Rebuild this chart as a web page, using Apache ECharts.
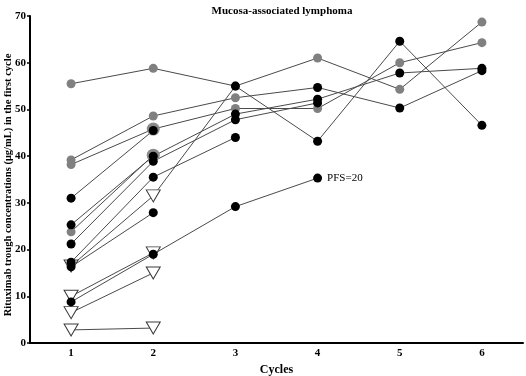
<!DOCTYPE html>
<html><head><meta charset="utf-8">
<script src="https://cdn.jsdelivr.net/npm/echarts@6/dist/echarts.min.js"></script>
<style>html,body{margin:0;padding:0;background:#fff}#c{width:526px;height:376px}</style>
</head><body><div id="c"></div>
<script>
// ---- data ----
var cycles = ['1', '2', '3', '4', '5', '6'];
var yTicks = [0, 10, 20, 30, 40, 50, 60, 70];
var titleText = 'Mucosa-associated lymphoma';
var xName = 'Cycles';
var yName = 'Rituximab trough concentrations (\u03bcg/mL) in the first cycle';
var pfsNote = 'PFS=20';

// per-patient values by cycle; kind: g = grey circle, G = large grey circle, b = black circle, t = open triangle
var pA = [55.5, 58.8, 55.0, 61.0, 54.3, 68.7];   var kA = ['g','g','g','g','g','g'];
var pB = [16.5, 31.5, 55.0, 43.2, 64.6, 46.6];   var kB = ['t','t','b','b','b','b'];
var pC = [39.2, 48.6, 52.5, 54.7, 50.3, 58.3];   var kC = ['g','g','g','b','b','b'];
var pD = [38.2, 45.8, 50.2, 50.2, 60.0, 64.3];   var kD = ['g','G','g','g','g','g'];
var pF = [25.3, 40.0, 49.0, 52.2, 57.8, 58.8];   var kF = ['b','b','b','b','b','b'];
var pG = [21.2, 38.9, 47.8, 51.4];               var kG = ['b','b','b','b'];
var pH = [17.3, 35.5, 44.0];                     var kH = ['b','b','b'];
var pPFS = [8.8, 19.0, 29.2, 35.3];              var kPFS = ['b','b','b','b'];
var pI = [31.0, 45.5];                           var kI = ['b','b'];
var pJ = [23.8, 40.2];                           var kJ = ['g','G'];
var pK = [16.3, 27.9];                           var kK = ['b','b'];
var pL = [10.0, 19.3];                           var kL = ['t','t'];
var pM = [6.5, 15.0];                            var kM = ['t','t'];
var pN = [2.8, 3.2];                             var kN = ['t','t'];

var patients = [
  {v: pA, k: kA}, {v: pB, k: kB}, {v: pC, k: kC}, {v: pD, k: kD}, {v: pF, k: kF},
  {v: pG, k: kG}, {v: pH, k: kH}, {v: pPFS, k: kPFS, note: pfsNote}, {v: pI, k: kI},
  {v: pJ, k: kJ}, {v: pK, k: kK}, {v: pL, k: kL}, {v: pM, k: kM}, {v: pN, k: kN}
];

// ---- chart ----
var serif = '"Liberation Serif", "Times New Roman", serif';
var series = [];
patients.forEach(function (p) {
  series.push({
    type: 'line', data: p.v.slice(), symbol: 'none', z: 1, silent: true,
    lineStyle: {color: '#4a4a4a', width: 1}
  });
});
var kindStyle = {
  t: {symbol: 'triangle', symbolRotate: 180, symbolSize: [14, 12], itemStyle: {color: '#fff', borderColor: '#3a3a3a', borderWidth: 1, opacity: 1}, z: 3},
  G: {symbol: 'circle', symbolSize: 13, itemStyle: {color: '#8a8a8a', opacity: 1}, z: 4},
  g: {symbol: 'circle', symbolSize: 9, itemStyle: {color: '#808080', opacity: 1}, z: 5},
  b: {symbol: 'circle', symbolSize: 9, itemStyle: {color: '#000', opacity: 1}, z: 6}
};
['t', 'G', 'g', 'b'].forEach(function (kind) {
  var pts = [];
  patients.forEach(function (p) {
    p.v.forEach(function (val, i) {
      if (p.k[i] !== kind) return;
      var item = {value: [cycles[i], val]};
      if (p.note && i === p.v.length - 1) {
        item.label = {show: true, position: 'right', distance: 5, formatter: p.note,
          fontFamily: serif, fontSize: 11, color: '#000'};
      }
      pts.push(item);
    });
  });
  var st = kindStyle[kind];
  series.push({
    type: 'scatter', data: pts, symbol: st.symbol, symbolSize: st.symbolSize,
    symbolRotate: st.symbolRotate || 0, itemStyle: st.itemStyle, z: st.z, silent: true
  });
});

var chart = echarts.init(document.getElementById('c'), null, {renderer: 'canvas'});
chart.setOption({
  animation: false,
  backgroundColor: '#fff',
  title: {
    text: titleText, left: 277, top: 1, textAlign: 'center',
    textStyle: {fontFamily: serif, fontWeight: 'bold', fontSize: 11, color: '#000'}
  },
  graphic: [{
    type: 'text', x: 8, y: 185, rotation: Math.PI / 2, silent: true,
    style: {text: yName, align: 'center', verticalAlign: 'middle',
      font: 'bold 10.5px ' + serif, fill: '#000'}
  }],
  grid: {left: 30, right: 3, top: 16, bottom: 33, containLabel: false, outerBoundsMode: 'none'},
  xAxis: {
    type: 'category', data: cycles, boundaryGap: true,
    name: xName, nameLocation: 'middle', nameGap: 20,
    nameTextStyle: {fontFamily: serif, fontWeight: 'bold', fontSize: 12, color: '#000'},
    axisLine: {lineStyle: {color: '#000', width: 2}},
    axisTick: {alignWithLabel: true, length: 3, lineStyle: {color: '#000', width: 1.5}},
    axisLabel: {margin: 5, fontFamily: serif, fontWeight: 'bold', fontSize: 11, color: '#000'},
    splitLine: {show: false}
  },
  yAxis: {
    type: 'value', min: yTicks[0], max: yTicks[yTicks.length - 1], interval: 10,
    axisLine: {show: true, lineStyle: {color: '#000', width: 2}},
    axisTick: {show: true, length: 3, lineStyle: {color: '#000', width: 1.5}},
    axisLabel: {margin: 4, fontFamily: serif, fontWeight: 'bold', fontSize: 11, color: '#000'},
    splitLine: {show: false}
  },
  series: series
});
</script>
</body></html>
